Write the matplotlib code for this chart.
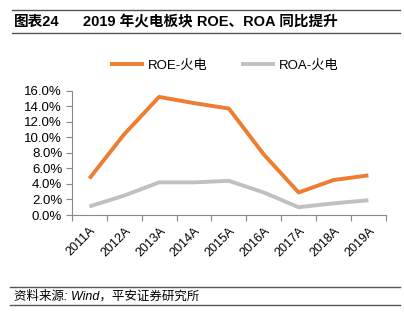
import numpy as np
import matplotlib.pyplot as plt
from matplotlib.ticker import FixedLocator, NullFormatter

plt.rcParams['font.family'] = ['Liberation Sans', 'Noto Sans CJK SC', 'DejaVu Sans']

years = ['2011A', '2012A', '2013A', '2014A', '2015A', '2016A', '2017A', '2018A', '2019A']
roe = [4.7, 10.4, 15.2, 14.4, 13.7, 7.8, 2.9, 4.5, 5.1]   # %
roa = [1.1, 2.5, 4.2, 4.2, 4.4, 2.9, 1.0, 1.5, 1.9]       # %

fig = plt.figure(figsize=(4.04, 3.28), dpi=100, facecolor='white')
ax = fig.add_axes([0.178, 0.3445, 0.777, 0.379])

x = np.arange(len(years))
ax.plot(x, roe, color='#ED7D31', linewidth=2.8, label='ROE-火电', solid_capstyle='butt')
ax.plot(x, roa, color='#C0C0C0', linewidth=2.8, label='ROA-火电', solid_capstyle='butt')

ax.set_xlim(-0.5, len(years) - 0.5)
ax.set_ylim(0, 16)
ax.set_yticks(np.arange(0, 17, 2))
ax.set_yticklabels(['%.1f%%' % v for v in np.arange(0, 17, 2)], fontsize=9.5)
ax.set_xticks(x)
ax.set_xticklabels(years, rotation=45, ha='right', rotation_mode='anchor', fontsize=9)
ax.tick_params(axis='x', which='major', length=0, pad=7)
ax.xaxis.set_minor_locator(FixedLocator(np.arange(-0.5, len(years), 1.0)))
ax.xaxis.set_minor_formatter(NullFormatter())
ax.tick_params(axis='x', which='minor', length=4, color='#888888', width=0.8)
ax.tick_params(axis='y', length=4, color='#888888', width=0.8, pad=3)

for s in ['top', 'right']:
    ax.spines[s].set_visible(False)
for s in ['left', 'bottom']:
    ax.spines[s].set_color('#888888')
    ax.spines[s].set_linewidth(0.8)

fig.legend(loc='center', bbox_to_anchor=(0.555, 0.80), ncol=2, frameon=False,
           fontsize=9.5, handlelength=2.6, handletextpad=0.3, columnspacing=2.5)

# title band and source note
for yy in (10, 33):
    fig.add_artist(plt.Line2D([0.03, 0.99], [1 - yy / 328] * 2, color='#555555', lw=1))
fig.text(0.035, 1 - 22 / 328, '图表24', fontsize=10.5, fontweight='bold', va='center',
         family=['Liberation Sans', 'Noto Sans CJK SC'])
fig.text(0.205, 1 - 22 / 328, '2019 年火电板块 ROE、ROA 同比提升', fontsize=10.5,
         fontweight='bold', va='center', family=['Liberation Sans', 'Noto Sans CJK SC'])

for yy in (287, 305):
    fig.add_artist(plt.Line2D([0.025, 0.99], [1 - yy / 328] * 2, color='#555555', lw=1))
fig.text(0.035, 1 - 296 / 328, '资料来源: Wind，平安证券研究所', fontsize=9, style='italic',
         va='center', family=['Liberation Sans', 'Noto Sans CJK SC'])

fig.savefig('out.png', dpi=100, facecolor='white')
